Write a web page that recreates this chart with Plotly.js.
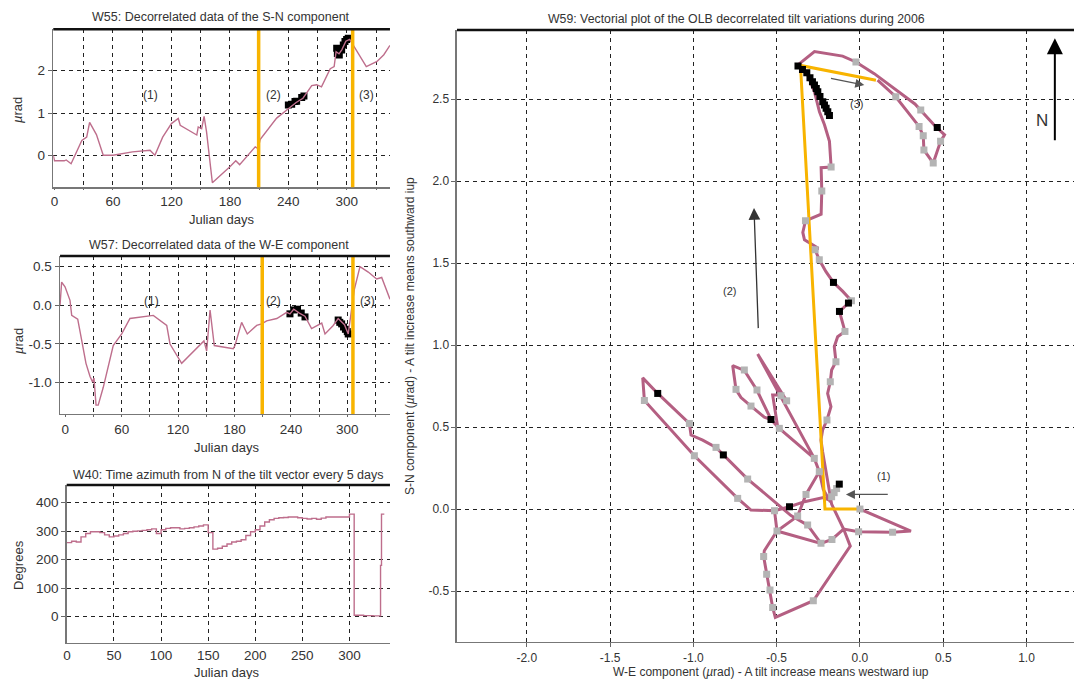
<!DOCTYPE html>
<html><head><meta charset="utf-8">
<script src="https://cdn.plot.ly/plotly-3.0.1.min.js"></script>
<style>body{margin:0;background:#fff}#chart{width:1074px;height:679px}</style>
</head><body><div id="chart"></div>
<script>
// ---- W55: S-N component time series ----
const sn_days = [-1.3,0,10,12,17,21,28,33,36,43,50,60,80,98,103,111,120,127,129,146,147.5,151,153.5,156,162,180,186,190,204,206,209,211,228,238,242,248,255,264,269,274,283,287,289,292,295,299,303,308,320,331,338,344.3];
const sn_vals = [0,-0.13,-0.13,-0.11,-0.2,0.0,0.35,0.43,0.78,0.49,0.0,0.0,0.08,0.12,0.0,0.43,0.75,0.87,0.71,0.48,0.67,0.63,0.92,0.56,-0.65,-0.27,-0.13,-0.22,0.13,0.2,0.16,0.37,0.88,1.07,1.15,1.25,1.35,1.65,1.67,1.62,2.05,2.1,2.45,2.4,2.5,2.7,2.74,2.56,2.1,2.22,2.38,2.6];
const sn_mark_days = [240,243.4,246.8,248.5,253.7,256,289.6,290.3,292.3,294.7,296.4,298.1,299.8,301.5];
const sn_mark_vals = [1.19,1.21,1.27,1.28,1.37,1.40,2.53,2.41,2.37,2.49,2.61,2.69,2.74,2.77];

// ---- W57: W-E component time series ----
const we_days = [-5.6,-3.9,-0.3,5,6.8,13.2,17.4,22,26.3,29,30.5,32.7,35,40.4,51,60,68.8,93.6,107.9,111.4,123.8,143.3,147.5,150.4,154,158.5,178.7,180.5,187.6,193.6,203.6,208.9,214.2,225,235.5,239,243,249,255,262,272.8,276.3,285,290.3,294,297,301,304.7,307.4,313.5,322.3,331.2,336.6,345.4];
const we_vals = [0,0.30,0.24,0.065,-0.13,-0.18,-0.45,-0.75,-0.92,-0.99,-0.94,-1.29,-1.29,-1.06,-0.52,-0.37,-0.17,-0.13,-0.26,-0.5,-0.75,-0.52,-0.46,-0.59,-0.06,-0.52,-0.56,-0.52,-0.22,-0.37,-0.26,-0.24,-0.2,-0.17,-0.09,-0.11,-0.05,-0.1,-0.14,-0.3,-0.23,-0.37,-0.26,-0.17,-0.22,-0.25,-0.37,-0.06,0.2,0.5,0.43,0.34,0.36,0.08];
const we_mark_days = [239,243,247,251,255,290.3,292,294,296,298,300,301];
const we_mark_vals = [-0.11,-0.06,-0.05,-0.1,-0.15,-0.19,-0.22,-0.24,-0.28,-0.31,-0.34,-0.37];

// ---- W40: azimuth every 5 days ----
const az_days = [0,5,10,15,20,25,30,35,40,45,50,55,60,65,70,75,80,85,90,95,100,105,110,115,120,125,130,135,140,145,150,155,160,165,170,175,180,185,190,195,200,205,210,215,220,225,230,235,240,245,250,255,260,265,270,275,280,285,290,295,300,305,310,315,320,325,330,333,334,337];
const az_vals = [260,265,262,280,292,298,298,295,287,280,283,287,292,298,300,301,303,305,308,292,305,310,312,312,308,310,312,315,318,322,295,237,240,247,255,262,265,270,285,298,305,318,332,340,345,347,348,350,350,347,345,343,345,342,346,350,350,350,350,350,360,5,5,4,4,3,3,180,360,360];

// ---- W59: vectorial plot (W-E, S-N), null separates strokes ----
const path_we = [0,0.306,0.196,-0.008,-0.098,-0.168,-0.234,-0.498,-0.513,-0.654,-0.734,-0.994,-1.294,-1.304,-1.214,-1.024,-1.014,-0.944,-0.864,-0.82,-0.674,-0.414,-0.314,-0.234,null,
 -0.513,-0.423,-0.333,-0.22,-0.184,-0.124,-0.184,-0.22,-0.244,-0.274,-0.484,-0.534,-0.618,-0.694,-0.764,-0.744,-0.714,-0.654,-0.574,-0.534,-0.494,-0.524,-0.474,-0.44,-0.614,-0.274,-0.244,-0.324,-0.374,-0.498,-0.574,-0.578,-0.56,-0.54,-0.524,-0.508,-0.28,-0.058,-0.098,-0.17,-0.2,-0.224,-0.234,
 -0.224,-0.198,-0.174,-0.194,-0.178,-0.17,-0.144,-0.154,-0.134,-0.09,-0.115,-0.123,-0.069,-0.051,-0.103,-0.159,-0.205,-0.244,-0.269,-0.25,-0.333,-0.343,-0.327,-0.233,-0.229,-0.233,-0.173,-0.183,-0.213,-0.243,-0.273,-0.313,-0.372,
 -0.273,-0.104,-0.024,0.086,0.215,0.33,0.444,0.508,0.484,0.44,0.384,0.38,0.355,0.215,0.106];
const path_sn = [0,-0.134,-0.142,-0.138,-0.122,-0.185,-0.209,-0.134,-0.01,-0.006,0.065,0.325,0.662,0.80,0.705,0.522,0.451,0.420,0.376,0.33,0.183,-0.04,-0.098,-0.209,null,
 -0.01,0.014,0.045,0.07,0.055,0.152,0.055,0.12,0.228,0.309,0.492,0.546,0.724,0.845,0.875,0.728,0.68,0.627,0.56,0.546,0.502,0.695,0.695,0.66,0.945,0.309,0.228,0.089,-0.043,-0.134,-0.254,-0.29,-0.398,-0.494,-0.6,-0.661,-0.559,-0.226,-0.122,0.03,0.2,0.35,0.421,
 0.482,0.543,0.624,0.705,0.776,0.848,0.898,0.99,1.051,1.083,1.165,1.205,1.256,1.27,1.327,1.382,1.449,1.52,1.581,1.59,1.642,1.687,1.758,1.798,1.94,2.081,2.085,2.242,2.343,2.423,2.544,2.645,2.709,
 2.79,2.762,2.726,2.655,2.56,2.47,2.343,2.282,2.242,2.11,2.19,2.276,2.333,2.514,2.615];
const grey_we = [0,-0.008,0.196,-0.168,-0.234,-0.28,-0.524,-0.54,-0.56,-0.578,-0.498,-0.374,-0.324,-0.244,-0.274,-0.314,-0.513,-0.734,-0.674,-0.994,-0.864,-1.024,-1.294,-0.694,-0.618,-0.744,-0.654,-0.484,-0.474,-0.44,-0.14,-0.155,-0.17,-0.198,-0.178,-0.144,-0.09,-0.051,-0.244,-0.269,-0.327,-0.229,-0.173,-0.024,0.215,0.365,0.355,0.38,0.384,0.484,0.44];
const grey_sn = [0,-0.138,-0.142,-0.185,-0.209,-0.559,-0.6,-0.494,-0.398,-0.29,-0.134,-0.043,0.089,0.228,0.309,-0.098,-0.01,0.065,0.183,0.325,0.376,0.522,0.662,0.848,0.726,0.73,0.628,0.492,0.691,0.66,0.125,0.1,0.075,0.543,0.776,0.898,1.083,1.27,1.52,1.581,1.758,1.94,2.085,2.726,2.514,2.433,2.333,2.276,2.19,2.242,2.11];
const black_we = [-1.214,-0.82,-0.534,-0.423,-0.124,-0.123,-0.069,-0.159,0.464,-0.372,-0.345,-0.319,-0.3,-0.285,-0.273,-0.262,-0.253,-0.24,-0.223,-0.213,-0.203,-0.193,-0.183];
const black_sn = [0.705,0.33,0.546,0.014,0.152,1.205,1.256,1.382,2.327,2.702,2.68,2.661,2.63,2.605,2.585,2.565,2.544,2.515,2.484,2.464,2.444,2.422,2.40];
const phase_we = [0,-0.21,-0.357,0.096];
const phase_sn = [0,0,2.705,2.615];
const phase_days = [209.5,306];

const FONT = 'Liberation Sans, Arial, Helvetica, sans-serif';
const TXT = '#333';
const LINEC = 'rgb(190,110,140)';
const VECC = 'rgb(180,95,130)';
const YEL = '#f8b400';

const traces = [
  {x:sn_mark_days,y:sn_mark_vals,xaxis:'x',yaxis:'y',mode:'markers',marker:{symbol:'square',size:7,color:'#000'}},
  {x:sn_days,y:sn_vals,xaxis:'x',yaxis:'y',mode:'lines',line:{color:LINEC,width:1.4}},
  {x:we_mark_days,y:we_mark_vals,xaxis:'x2',yaxis:'y2',mode:'markers',marker:{symbol:'square',size:7,color:'#000'}},
  {x:we_days,y:we_vals,xaxis:'x2',yaxis:'y2',mode:'lines',line:{color:LINEC,width:1.4}},
  {x:az_days,y:az_vals,xaxis:'x3',yaxis:'y3',mode:'lines',line:{color:LINEC,width:1.4,shape:'hv'}},
  {x:path_we,y:path_sn,xaxis:'x4',yaxis:'y4',mode:'lines',connectgaps:false,line:{color:VECC,width:3}},
  {x:phase_we,y:phase_sn,xaxis:'x4',yaxis:'y4',mode:'lines',line:{color:YEL,width:3}},
  {x:grey_we,y:grey_sn,xaxis:'x4',yaxis:'y4',mode:'markers',marker:{symbol:'square',size:7,color:'#b4b4b4'}},
  {x:black_we,y:black_sn,xaxis:'x4',yaxis:'y4',mode:'markers',marker:{symbol:'square',size:7,color:'#000'}}
];

const grid = {showgrid:true,gridcolor:'#222',gridwidth:1,griddash:'4px,4px',showline:true,linecolor:'#777',linewidth:1.5,
  ticks:'outside',ticklen:4,tickcolor:'#666',tickfont:{family:FONT,size:13.5,color:TXT},automargin:false,fixedrange:true};
function ax(o){return Object.assign({},grid,o);}

const dayGrid = [0,30,60,90,120,150,180,210,240,270,300,330];
const dayText = ['0','','60','','120','','180','','240','','300',''];

const layout = {
  width:1074,height:679,margin:{l:0,r:0,t:0,b:0},paper_bgcolor:'#fff',plot_bgcolor:'#fff',showlegend:false,
  font:{family:FONT,color:TXT},
  xaxis:ax({domain:[0.0496,0.3631],anchor:'y',range:[-1.3,344.3],tickmode:'array',tickvals:dayGrid,ticktext:dayText,zeroline:true,zerolinecolor:'rgba(0,0,0,0)',ticklen:1}),
  yaxis:ax({domain:[0.7242,0.9568],anchor:'x',range:[-0.756,2.98],tickmode:'array',tickvals:[0,1,2],ticktext:['0','1','2'],zeroline:false}),
  xaxis2:ax({domain:[0.0559,0.3631],anchor:'y2',range:[-5.6,345.4],tickmode:'array',tickvals:dayGrid,ticktext:dayText,zeroline:true,zerolinecolor:'rgba(0,0,0,0)',ticklen:2}),
  yaxis2:ax({domain:[0.3903,0.6230],anchor:'x2',range:[-1.405,0.638],tickmode:'array',tickvals:[-1,-0.5,0,0.5],ticktext:['-1.0','-0.5','0.0','0.5'],zeroline:false}),
  xaxis3:ax({domain:[0.0621,0.3631],anchor:'y3',range:[-0.2,343],tickmode:'array',tickvals:[0,50,100,150,200,250,300],ticktext:['0','50','100','150','200','250','300'],zeroline:true,zerolinecolor:'rgba(0,0,0,0)',ticks:''}),
  yaxis3:ax({domain:[0.0535,0.2857],anchor:'x3',range:[-91,462],tickmode:'array',tickvals:[0,100,200,300,400],ticktext:['0','100','200','300','400'],zeroline:false}),
  xaxis4:ax({domain:[0.4255,1.0],anchor:'y4',range:[-2.419,1.285],tickmode:'array',tickvals:[-2,-1.5,-1,-0.5,0,0.5,1],ticktext:['-2.0','-1.5','-1.0','-0.5','0.0','0.5','1.0'],zeroline:false,tickfont:{family:FONT,size:12,color:TXT}}),
  yaxis4:ax({domain:[0.0549,0.9558],anchor:'x4',range:[-0.809,2.921],tickmode:'array',tickvals:[-0.5,0,0.5,1,1.5,2,2.5],ticktext:['-0.5','0.0','0.5','1.0','1.5','2.0','2.5'],zeroline:false,tickfont:{family:FONT,size:12,color:TXT}}),
  shapes:[],annotations:[]
};

// phase boundaries in the two time series panels
[['x','y'],['x2','y2']].forEach(([xa,ya])=>{
  phase_days.forEach(d=>layout.shapes.push({type:'line',xref:xa,yref:ya+' domain',x0:d,x1:d,y0:0,y1:1,line:{color:YEL,width:3.5}}));
});
// heavy top border on every panel
[['x','y'],['x2','y2'],['x3','y3'],['x4','y4']].forEach(([xa,ya])=>{
  layout.shapes.push({type:'line',xref:xa+' domain',yref:ya+' domain',x0:0,x1:1,y0:1,y1:1,line:{color:'#111',width:2.5}});
});

function pa(text,px,py,size,angle){
  layout.annotations.push({text:text,xref:'paper',yref:'paper',x:px/1074,y:1-py/679,xanchor:'center',yanchor:'middle',showarrow:false,textangle:angle||0,font:{family:FONT,size:size,color:TXT}});
}
pa('W55: Decorrelated data of the S-N component',221,17,12.5);
pa('W57: Decorrelated data of the W-E component',219,245,12.5);
pa('W40: Time azimuth from N of the tilt vector every 5 days',228,475,12.5);
pa('W59: Vectorial plot of the OLB decorrelated tilt variations during 2006',736,19,12.3);
pa('Julian days',222,220,13);
pa('Julian days',227,447,13);
pa('Julian days',227,672,13);
pa('<i>µ</i>rad',18,110,13,-90);
pa('<i>µ</i>rad',18,341,13,-90);
pa('Degrees',18,565,13,-90);
pa('W-E component (<i>µ</i>rad) - A tilt increase means westward iup',771,672,12);
pa('S-N component (<i>µ</i>rad) - A tilt increase means southward iup',410,336,12,-90);

function da(text,xa,ya,x,y,size){
  layout.annotations.push({text:text,xref:xa,yref:ya,x:x,y:y,showarrow:false,font:{family:FONT,size:size||12,color:TXT}});
}
da('(1)','x','y',98,1.43); da('(2)','x','y',224.5,1.43); da('(3)','x','y',320,1.43);
da('(1)','x2','y2',92,0.05); da('(2)','x2','y2',222,0.05); da('(3)','x2','y2',322,0.05);
da('(1)','x4','y4',0.14,0.203,11); da('(2)','x4','y4',-0.782,1.327,11); da('(3)','x4','y4',-0.018,2.47,11);
da('N','x4','y4',1.093,2.37,17);

function arrow(xa,ya,tx,ty,hx,hy,w,c,size){
  layout.annotations.push({text:'',xref:xa,yref:ya,axref:xa,ayref:ya,x:hx,y:hy,ax:tx,ay:ty,showarrow:true,arrowhead:2,arrowsize:size,arrowwidth:w,arrowcolor:c});
}
arrow('x4','y4',-0.61,1.094,-0.636,1.835,1.3,'#333',1.8);
arrow('x4','y4',-0.183,2.628,0.026,2.585,1.2,'#555',1.5);
arrow('x4','y4',0.176,0.089,-0.084,0.089,1.2,'#555',1.5);
arrow('x4','y4',1.17,2.24,1.17,2.87,2,'#000',1.6);

Plotly.newPlot('chart',traces,layout,{displayModeBar:false,staticPlot:true});
</script></body></html>
